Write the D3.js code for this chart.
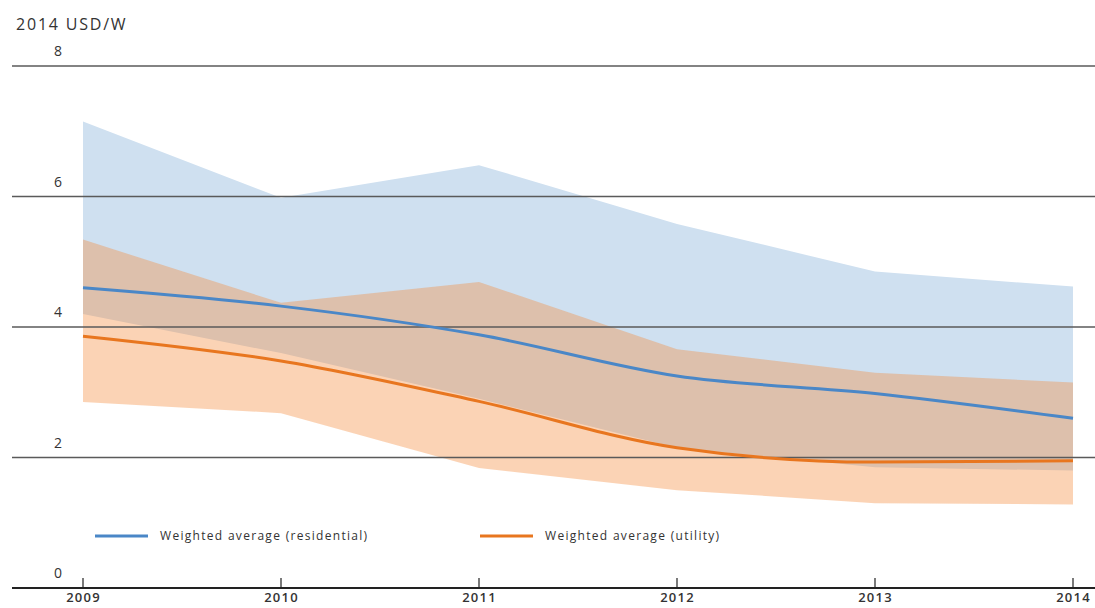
<!DOCTYPE html>
<html>
<head>
<meta charset="utf-8">
<script src="https://cdn.jsdelivr.net/npm/d3@7"></script>
<style>
  html, body { margin: 0; padding: 0; background: #fff; }
  svg { display: block; }
  text { font-family: "Open Sans", "Noto Sans", sans-serif; fill: #333; }
</style>
</head>
<body>
<svg id="chart" width="1095" height="608"></svg>
<script>
// Solar PV installed cost ranges and weighted averages, 2014 USD/W
const years = [2009, 2010, 2011, 2012, 2013, 2014];
const residentialHigh = [7.15, 5.98, 6.48, 5.58, 4.85, 4.62];
const residentialLow  = [4.20, 3.60, 2.90, 2.15, 1.85, 1.80];
const residentialAvg  = [4.60, 4.32, 3.88, 3.25, 2.98, 2.60];
const utilityHigh     = [5.34, 4.37, 4.69, 3.66, 3.30, 3.15];
const utilityLow      = [2.85, 2.68, 1.84, 1.50, 1.30, 1.28];
const utilityAvg      = [3.86, 3.48, 2.86, 2.15, 1.93, 1.95];
const yTicks = [0, 2, 4, 6, 8];
const unitLabel = "2014 USD/W";
const legendLabels = ["Weighted average (residential)", "Weighted average (utility)"];

const svg = d3.select("#chart");
const x = d3.scaleLinear().domain([2009, 2014]).range([83, 1073]);
const y = d3.scaleLinear().domain([0, 8]).range([588, 66]);

const rows = years.map((yr, i) => ({
  year: yr,
  rHi: residentialHigh[i], rLo: residentialLow[i], rAvg: residentialAvg[i],
  uHi: utilityHigh[i], uLo: utilityLow[i], uAvg: utilityAvg[i]
}));

// Ranges
svg.append("path").datum(rows)
  .attr("fill", "#cfe0f0")
  .attr("d", d3.area().x(d => x(d.year)).y0(d => y(d.rLo)).y1(d => y(d.rHi)));
svg.append("path").datum(rows)
  .attr("fill", "rgb(245,139,60)").attr("fill-opacity", 0.38)
  .attr("d", d3.area().x(d => x(d.year)).y0(d => y(d.uLo)).y1(d => y(d.uHi)));

// Horizontal gridlines with labels above them
const grid = svg.append("g");
yTicks.filter(t => t > 0).forEach(t => {
  grid.append("line")
    .attr("x1", 12).attr("x2", 1095)
    .attr("y1", y(t)).attr("y2", y(t))
    .attr("stroke", "#5a5a5a").attr("stroke-width", 1.5);
});
yTicks.forEach(t => {
  grid.append("text")
    .attr("x", 58).attr("y", y(t) - 10)
    .attr("text-anchor", "middle")
    .attr("font-size", 14)
    .text(t);
});

// Weighted average lines
svg.append("path").datum(rows)
  .attr("fill", "none").attr("stroke", "#4a87c7").attr("stroke-width", 3)
  .attr("d", d3.line().curve(d3.curveMonotoneX).x(d => x(d.year)).y(d => y(d.rAvg)));
svg.append("path").datum(rows)
  .attr("fill", "none").attr("stroke", "#e8761f").attr("stroke-width", 3)
  .attr("d", d3.line().curve(d3.curveMonotoneX).x(d => x(d.year)).y(d => y(d.uAvg)));

// Bottom axis
const axis = svg.append("g").attr("transform", `translate(0,${y(0)})`)
  .call(d3.axisBottom(x).tickValues(years).tickFormat(d3.format("d")).tickSize(0).tickPadding(5));
axis.select(".domain").remove();
axis.selectAll("text").attr("font-size", 13).attr("font-weight", 600)
  .attr("letter-spacing", 1.2)
  .attr("font-family", "'Open Sans', sans-serif").attr("fill", "#333");
axis.append("line").attr("x1", 12).attr("x2", 1095).attr("y1", 0).attr("y2", 0)
  .attr("stroke", "#222").attr("stroke-width", 2);
axis.selectAll(".yr-tick").data(years).join("line")
  .attr("class", "yr-tick")
  .attr("x1", d => x(d)).attr("x2", d => x(d))
  .attr("y1", -10).attr("y2", 0)
  .attr("stroke", "#222").attr("stroke-width", 1.2);

// Unit label
svg.append("text").attr("x", 16).attr("y", 30)
  .attr("font-size", 16).attr("letter-spacing", 1.8).text(unitLabel);

// Legend
const legend = svg.append("g");
const legendColors = ["#4a87c7", "#e8761f"];
const legendX = [95, 480];
legendLabels.forEach((lab, i) => {
  legend.append("line")
    .attr("x1", legendX[i]).attr("x2", legendX[i] + 53)
    .attr("y1", 536).attr("y2", 536)
    .attr("stroke", legendColors[i]).attr("stroke-width", 3);
  legend.append("text")
    .attr("x", legendX[i] + 65).attr("y", 540)
    .attr("font-size", 12).attr("letter-spacing", 1.3).text(lab);
});
</script>
</body>
</html>
